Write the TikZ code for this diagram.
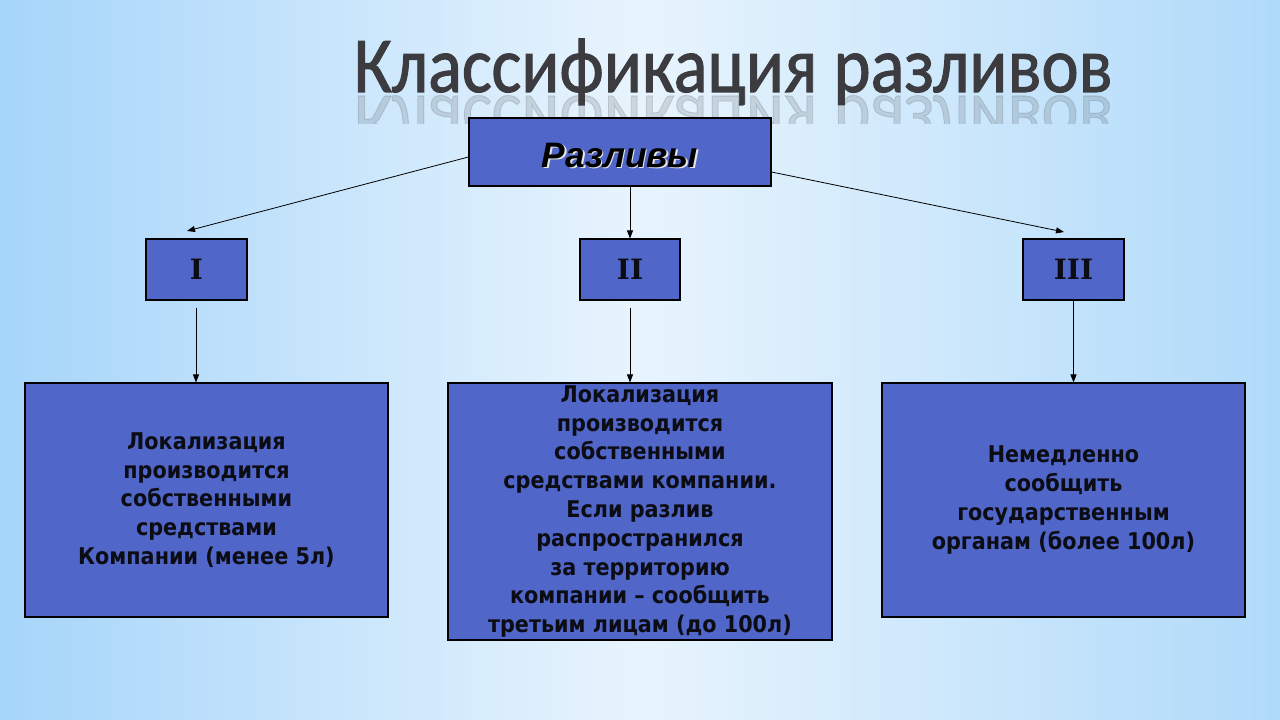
\documentclass[tikz,border=0pt]{standalone}
\usepackage{fontspec}
\setmainfont{DejaVu Sans Condensed}
\newfontfamily\titlefont[FakeBold=1.3]{Carlito}
\newfontfamily\romfont{DejaVu Serif}
\newfontfamily\headfont{Liberation Sans}
\usetikzlibrary{arrows.meta,calc}
\definecolor{boxblue}{RGB}{80,102,200}
\definecolor{bgleft}{RGB}{166,213,250}
\definecolor{bgmid}{RGB}{232,244,253}
\definecolor{bgright}{RGB}{176,218,250}
\definecolor{titlegray}{RGB}{60,60,64}
\definecolor{txt}{RGB}{12,12,20}
\begin{document}
\begin{tikzpicture}[x=0.75pt,y=-0.75pt,
  box/.style={draw=black, line width=0.8pt, fill=boxblue, inner sep=0pt, align=center, text=txt},
  bodytext/.style={font=\bfseries\fontsize{17.3}{21.6}\selectfont},
  romtext/.style={font=\romfont\bfseries\fontsize{21}{22}\selectfont},
  titlestyle/.style={text=titlegray, font=\titlefont\fontsize{53}{60}\selectfont, yscale=1.12, transform shape},
  arr/.style={line width=0.6pt, -{Triangle[length=6pt,width=4.5pt]}}]
% background
\shade[left color=bgleft, right color=bgright, middle color=bgmid] (0,0) rectangle (1280,720);
\useasboundingbox (0,0) rectangle (1280,720);
% title with reflection
\begin{scope}
\clip (300,95) rectangle (1180,124);
\node[anchor=base, titlestyle, yscale=-1, opacity=0.16] (titlerefl) at (733,96) {Классификация разливов};
\end{scope}
\node[anchor=base, titlestyle] (title) at (733,92) {Классификация разливов};
% top box
\node[box, minimum width=302*0.75pt, minimum height=68*0.75pt] (top) at (620,152) {};
\node[text=white!80!gray, font=\headfont\bfseries\itshape\fontsize{26.5}{30}\selectfont] (topsh) at (621.8,157) {Разливы};
\node[text=black, font=\headfont\bfseries\itshape\fontsize{26.5}{30}\selectfont] (toplabel) at (620,155.2) {Разливы};
% level boxes
\node[box, romtext, minimum width=101*0.75pt, minimum height=61*0.75pt] (b1) at (196.5,269.5) {I};
\node[box, romtext, minimum width=100*0.75pt, minimum height=61*0.75pt] (b2) at (630,269.5) {II};
\node[box, romtext, minimum width=101*0.75pt, minimum height=61*0.75pt] (b3) at (1073.5,269.5) {III};
% bottom boxes
\node[box, bodytext, minimum width=363*0.75pt, minimum height=234*0.75pt] (c1) at (206.5,500)
  {Локализация\\производится\\собственными\\средствами\\Компании (менее 5л)};
\node[box, bodytext, minimum width=384*0.75pt, minimum height=257*0.75pt] (c2) at (640,511.5)
  {Локализация\\производится\\собственными\\средствами компании.\\Если разлив\\распространился\\за территорию\\компании – сообщить\\третьим лицам (до 100л)};
\node[box, bodytext, minimum width=363*0.75pt, minimum height=234*0.75pt] (c3) at (1063.5,500)
  {Немедленно\\сообщить\\государственным\\органам (более 100л)};
% connectors
\coordinate (e1) at (187,231);
\coordinate (e3) at (1064,232);
\coordinate (s1) at (196,308);
\coordinate (s2) at (630,308);
\draw[arr] ($(top.west)+(0,5)$) -- (e1);
\draw[arr] (top.south -| b2) -- (b2.north);
\draw[arr] ($(top.east)+(0,20)$) -- (e3);
\draw[arr] (s1) -- (s1 |- c1.north);
\draw[arr] (s2) -- (s2 |- c2.north);
\draw[arr] (b3.south) -- (b3.south |- c3.north);
\end{tikzpicture}
\end{document}
